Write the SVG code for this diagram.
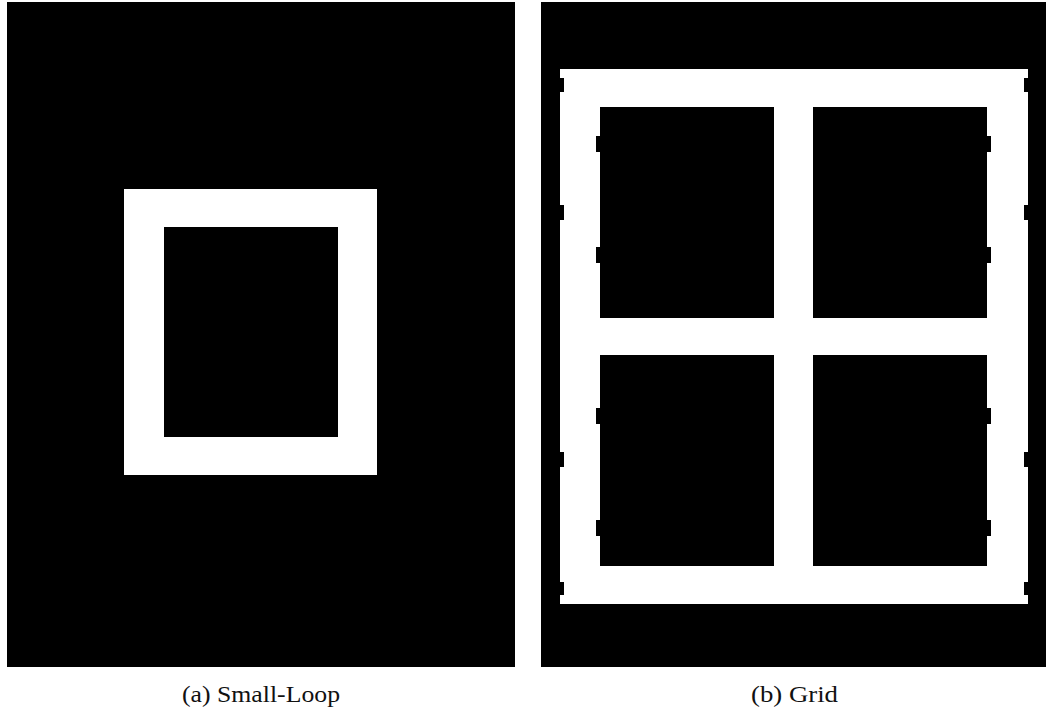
<svg xmlns="http://www.w3.org/2000/svg" width="1046" height="711" viewBox="0 0 1046 711">
<style>
.bk{fill:#000}
.wh{fill:#fff}
.cap{font-family:"Liberation Serif","DejaVu Serif",serif;font-size:23px;fill:#111;text-anchor:middle}
</style>
<rect x="0" y="0" width="1046" height="711" fill="#fff"/>
<g id="panel-a">
<rect class="bk" x="7" y="2" width="508" height="665"/>
<rect class="wh" x="124" y="189" width="253" height="286"/>
<rect class="bk" x="164" y="227" width="174" height="210"/>
</g>
<g id="panel-b">
<rect class="bk" x="541" y="2" width="505" height="665"/>
<rect class="wh" x="560" y="69" width="468" height="535"/>
<rect class="bk" x="600" y="107" width="174" height="211"/>
<rect class="bk" x="813" y="107" width="174" height="211"/>
<rect class="bk" x="600" y="355" width="174" height="211"/>
<rect class="bk" x="813" y="355" width="174" height="211"/>
<g id="notches">
<rect class="bk" x="560" y="78" width="4" height="14"/>
<rect class="bk" x="560" y="205" width="4" height="15"/>
<rect class="bk" x="560" y="452" width="4" height="15"/>
<rect class="bk" x="560" y="582" width="4" height="13"/>
<rect class="bk" x="1024" y="78" width="4" height="14"/>
<rect class="bk" x="1024" y="205" width="4" height="15"/>
<rect class="bk" x="1024" y="452" width="4" height="15"/>
<rect class="bk" x="1024" y="582" width="4" height="13"/>
<rect class="bk" x="596" y="136" width="4" height="16"/>
<rect class="bk" x="596" y="247" width="4" height="16"/>
<rect class="bk" x="596" y="408" width="4" height="16"/>
<rect class="bk" x="596" y="520" width="4" height="16"/>
<rect class="bk" x="987" y="136" width="4" height="16"/>
<rect class="bk" x="987" y="247" width="4" height="16"/>
<rect class="bk" x="987" y="408" width="4" height="16"/>
<rect class="bk" x="987" y="520" width="4" height="16"/>
</g>
</g>
<g id="captions">
<text class="cap" x="261" y="702" textLength="158" lengthAdjust="spacingAndGlyphs">(a) Small-Loop</text>
<text class="cap" x="794.5" y="702" textLength="87" lengthAdjust="spacingAndGlyphs">(b) Grid</text>
</g>
</svg>
